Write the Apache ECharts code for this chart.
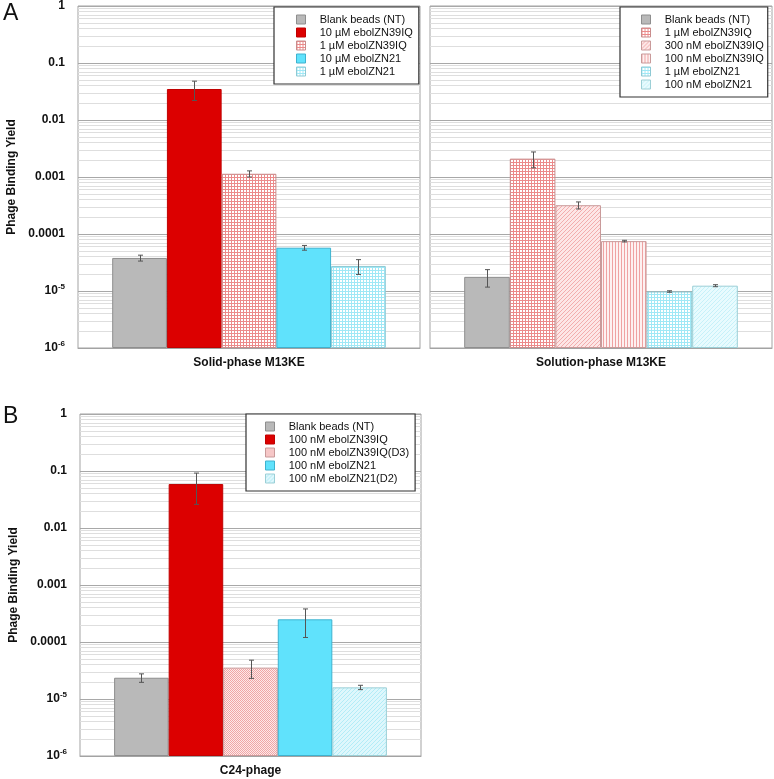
<!DOCTYPE html>
<html>
<head>
<meta charset="utf-8">
<script src="https://cdn.jsdelivr.net/npm/echarts@6/dist/echarts.min.js"></script>
<style>
html,body{margin:0;padding:0;background:#fff;}
#chart{width:774px;height:779px;}
</style>
</head>
<body>
<div id="chart"></div>
<script>
// ---------- DATA ----------
const categoriesA1 = ['Solid-phase M13KE'];
const categoriesA2 = ['Solution-phase M13KE'];
const categoriesB = ['C24-phage'];

const namesA1 = ['Blank beads (NT)', '10 µM ebolZN39IQ', '1 µM ebolZN39IQ', '10 µM ebolZN21', '1 µM ebolZN21'];
const valuesA1 = [3.8e-5, 0.035, 1.14e-3, 5.75e-5, 2.75e-5];
const errA1 = [0.45e-5, 0.013, 0.14e-3, 0.55e-5, 0.8e-5];

const namesA2 = ['Blank beads (NT)', '1 µM ebolZN39IQ', '300 nM ebolZN39IQ', '100 nM ebolZN39IQ', '1 µM ebolZN21', '100 nM ebolZN21'];
const valuesA2 = [1.77e-5, 2.1e-3, 3.2e-4, 7.5e-5, 9.8e-6, 1.24e-5];
const errA2 = [0.6e-5, 0.65e-3, 0.45e-4, 0.25e-5, 0.3e-6, 0.05e-5];

const namesB = ['Blank beads (NT)', '100 nM ebolZN39IQ', '100 nM ebolZN39IQ(D3)', '100 nM ebolZN21', '100 nM ebolZN21(D2)'];
const valuesB = [2.36e-5, 0.059, 3.55e-5, 2.5e-4, 1.6e-5];
const errB = [0.4e-5, 0.033, 1.25e-5, 1.3e-4, 0.14e-5];

const yTickExponents = [0, -1, -2, -3, -4, -5, -6];
const yTickLabels = ['1', '0.1', '0.01', '0.001', '0.0001', '10{s|-5}', '10{s|-6}'];
const minorMultipliers = [2, 3, 4, 5, 6, 7, 8, 9];
const axisMin = 1e-6, axisMax = 1;

// ---------- STYLES ----------
const FONT = 'Liberation Sans, Arial, Helvetica, sans-serif';
function pattern(w, h, bg, draw) {
  const c = document.createElement('canvas');
  c.width = w; c.height = h;
  const g = c.getContext('2d');
  g.fillStyle = bg; g.fillRect(0, 0, w, h);
  draw(g);
  return { image: c, repeat: 'repeat' };
}
const fills = {
  gray: '#b9b9b9',
  red: '#dc0000',
  cyan: '#60e2fc',
  redGrid: pattern(3, 3, '#ffffff', g => { g.fillStyle = '#ec8a8a'; g.fillRect(0, 0, 3, 1); g.fillRect(0, 0, 1, 3); }),
  pinkDiag: pattern(4, 4, '#fde6e6', g => { g.fillStyle = '#f2adad'; g.fillRect(0, 3, 1, 1); g.fillRect(1, 2, 1, 1); g.fillRect(2, 1, 1, 1); g.fillRect(3, 0, 1, 1); }),
  pinkVert: pattern(3, 1, '#fdf1f1', g => { g.fillStyle = '#efa2a2'; g.fillRect(0, 0, 1, 1); }),
  cyanGrid: pattern(3, 3, '#ffffff', g => { g.fillStyle = '#9fe8f6'; g.fillRect(0, 0, 3, 1); g.fillRect(0, 0, 1, 3); }),
  cyanLight: pattern(4, 4, '#e8fbfe', g => { g.fillStyle = '#c6f1f9'; g.fillRect(0, 3, 1, 1); g.fillRect(1, 2, 1, 1); g.fillRect(2, 1, 1, 1); g.fillRect(3, 0, 1, 1); }),
  pinkCheck: pattern(2, 2, '#fde9e9', g => { g.fillStyle = '#f0a6a6'; g.fillRect(0, 0, 1, 1); g.fillRect(1, 1, 1, 1); }),
  cyanD2: pattern(4, 4, '#def7fc', g => { g.fillStyle = '#b2ecf7'; g.fillRect(0, 3, 1, 1); g.fillRect(1, 2, 1, 1); g.fillRect(2, 1, 1, 1); g.fillRect(3, 0, 1, 1); })
};
const borders = { gray: '#8e8e8e', red: '#c00000', cyan: '#3eb2cf', redGrid: '#c98c8c', pinkDiag: '#c99a9a', pinkVert: '#c99a9a', cyanGrid: '#8ec9d4', cyanLight: '#9ccfd6', pinkCheck: '#c99a9a', cyanD2: '#9ccfd6' };
const stylesA1 = ['gray', 'red', 'redGrid', 'cyan', 'cyanGrid'];
const stylesA2 = ['gray', 'redGrid', 'pinkDiag', 'pinkVert', 'cyanGrid', 'cyanLight'];
const stylesB = ['gray', 'red', 'pinkCheck', 'cyan', 'cyanD2'];

// ---------- BUILD ----------
// ECharts log-axis bars grow from value 1, so the axis is expressed in units of
// the axis minimum (1e-6): plotted value = value / axisMin; labels map back.
const S = v => v / axisMin;
const minorValues = [];
for (let e = -6; e < 0; e++) minorMultipliers.forEach(k => minorValues.push(S(k * Math.pow(10, e))));

function yLabel(v) {
  const e = Math.round(Math.log10(v * axisMin));
  const i = yTickExponents.indexOf(e);
  return i >= 0 ? yTickLabels[i] : '';
}

const grids = [
  { left: 78, top: 6, width: 342, height: 342, show: true, borderColor: '#a3a3a3', borderWidth: 1 },
  { left: 430, top: 6, width: 342, height: 342, show: true, borderColor: '#a3a3a3', borderWidth: 1 },
  { left: 80, top: 414, width: 341, height: 342, show: true, borderColor: '#a3a3a3', borderWidth: 1 }
];
const cats = [categoriesA1, categoriesA2, categoriesB];
const xAxes = cats.map((c, i) => ({
  type: 'category', gridIndex: i, data: c,
  axisTick: { show: false },
  axisLine: { show: true, lineStyle: { color: '#a3a3a3' } },
  axisLabel: { fontWeight: 'bold', fontSize: 12, color: '#111', margin: 9, fontFamily: FONT }
}));
const yAxes = [0, 1, 2].map(i => ({
  type: 'log', logBase: 10, gridIndex: i, min: S(axisMin), max: S(axisMax),
  name: i === 1 ? '' : 'Phage Binding Yield',
  nameLocation: 'middle', nameGap: 60,
  nameTextStyle: { fontWeight: 'bold', fontSize: 12, color: '#111', fontFamily: FONT },
  axisLine: { show: false }, axisTick: { show: false },
  splitLine: { show: true, lineStyle: { color: '#a8a8a8', width: 1 } },
  axisLabel: {
    show: i !== 1, formatter: yLabel, fontWeight: 'bold', fontSize: 12, color: '#111', margin: 13, fontFamily: FONT,
    rich: { s: { fontSize: 8, fontWeight: 'bold', color: '#111', padding: [0, 0, 8, 0], fontFamily: FONT } }
  }
}));

const series = [];
const panels = [
  [namesA1, valuesA1, errA1, stylesA1],
  [namesA2, valuesA2, errA2, stylesA2],
  [namesB, valuesB, errB, stylesB]
];
panels.forEach(([names, vals, errs, styles], p) => {
  series.push({
    type: 'line', xAxisIndex: p, yAxisIndex: p, data: [], silent: true,
    markLine: {
      z: 1, silent: true, symbol: 'none', animation: false,
      label: { show: false },
      lineStyle: { color: '#dedede', width: 1, type: 'solid' },
      data: minorValues.map(v => ({ yAxis: v }))
    }
  });
  names.forEach((n, i) => {
    series.push({
      type: 'bar', name: n, xAxisIndex: p, yAxisIndex: p, z: 2,
      barGap: 0, barCategoryGap: '20%',
      itemStyle: { color: fills[styles[i]], borderColor: borders[styles[i]], borderWidth: 1 },
      data: [S(vals[i])], animation: false
    });
  });
  series.push({
    type: 'custom', xAxisIndex: p, yAxisIndex: p, z: 4, silent: true, animation: false,
    encode: { x: 0, y: [3, 4] },
    data: vals.map((v, i) => [0, i, vals.length, S(v - errs[i]), S(v + errs[i])]),
    renderItem: function (params, api) {
      const cat = api.value(0), idx = api.value(1), n = api.value(2);
      const lo = api.coord([cat, api.value(3)]);
      const hi = api.coord([cat, api.value(4)]);
      const bw = api.size([1, 0])[0];
      const w = bw * 0.8 / n;
      const x = Math.round(lo[0] - bw * 0.4 + (idx + 0.5) * w) + 0.5;
      const st = { stroke: '#555', lineWidth: 1 };
      const c = 2.5;
      return {
        type: 'group', children: [
          { type: 'line', shape: { x1: x, y1: lo[1], x2: x, y2: hi[1] }, style: st },
          { type: 'line', shape: { x1: x - c, y1: lo[1], x2: x + c, y2: lo[1] }, style: st },
          { type: 'line', shape: { x1: x - c, y1: hi[1], x2: x + c, y2: hi[1] }, style: st }
        ]
      };
    }
  });
});

function legend(names, styles, left, top, padding) {
  return {
    data: names.map((n, i) => ({
      name: n,
      itemStyle: { color: fills[styles[i]], borderColor: borders[styles[i]], borderWidth: 1 }
    })),
    left: left, top: top, orient: 'vertical', icon: 'rect',
    itemWidth: 9, itemHeight: 9, itemGap: 2, selectedMode: false,
    padding: padding, borderColor: '#333', borderWidth: 1.2, backgroundColor: '#fff',
    formatter: n => '   ' + n,
    textStyle: { fontSize: 11, color: '#111', fontFamily: FONT }
  };
}

const option = {
  animation: false,
  backgroundColor: '#fff',
  grid: grids,
  xAxis: xAxes,
  yAxis: yAxes,
  legend: [
    legend(namesA1, stylesA1, 274, 7, [7, 6, 7, 22]),
    legend(namesA2, stylesA2, 620, 7, [7, 4, 7, 21]),
    legend(namesB, stylesB, 246, 414, [7, 6, 7, 19])
  ],
  graphic: [
    { type: 'text', left: 3, top: 2, style: { text: 'A', fontSize: 23, fill: '#111', fontFamily: FONT } },
    { type: 'text', left: 3, top: 405, style: { text: 'B', fontSize: 23, fill: '#111', fontFamily: FONT } }
  ],
  series: series
};
const chart = echarts.init(document.getElementById('chart'), null, { renderer: 'canvas' });
chart.setOption(option);
</script>
</body>
</html>
